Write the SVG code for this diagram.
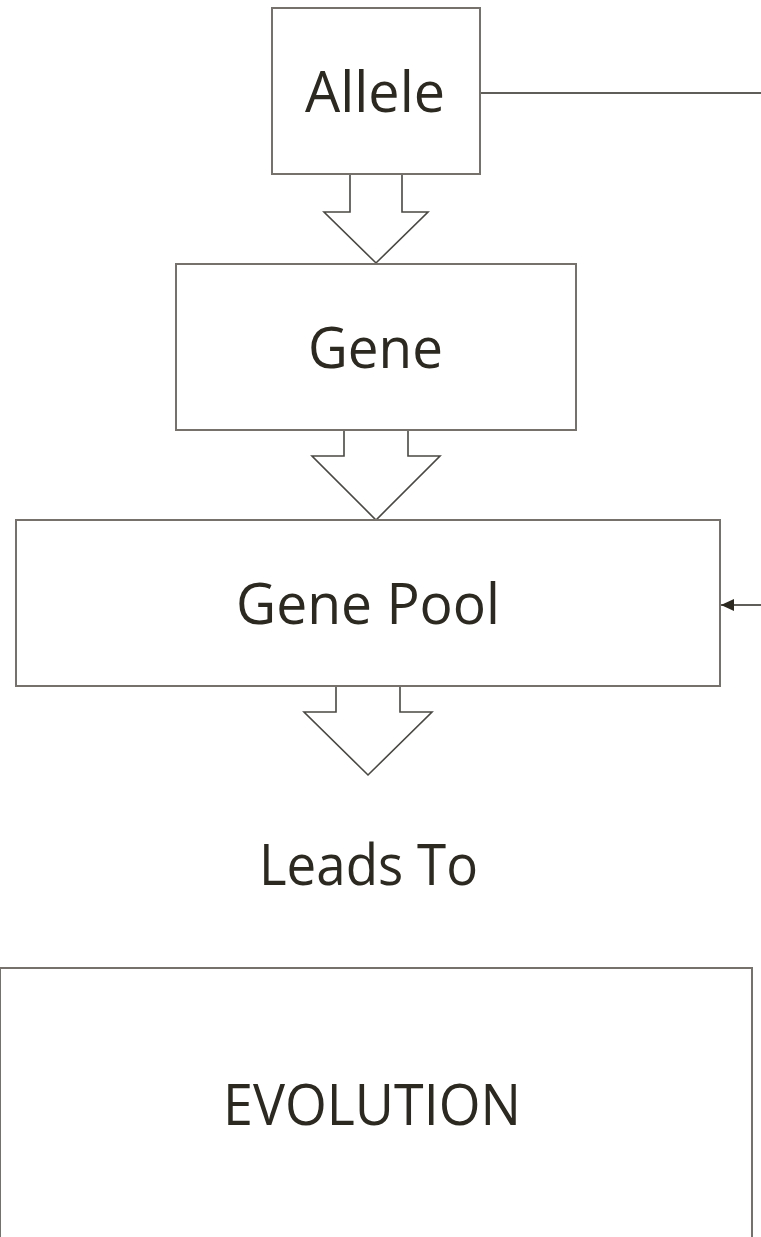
<svg xmlns="http://www.w3.org/2000/svg" width="761" height="1237" viewBox="0 0 761 1237">
<style>
.box{fill:#fff;stroke:#76726b;stroke-width:2}
.arr{fill:#fff;stroke:#4a4842;stroke-width:1.6;stroke-linejoin:miter}
.lbl{font-family:"Open Sans","Noto Sans",sans-serif;font-size:56px;fill:#2b2920;text-anchor:middle}
.con{stroke:#2b2920;stroke-width:1.5;fill:none}
</style>
<defs>
<marker id="ah" viewBox="0 0 13 12" refX="13" refY="6" markerWidth="13" markerHeight="12" markerUnits="userSpaceOnUse" orient="auto">
<path d="M0,0 L13,6 L0,12 z" fill="#2b2920"/>
</marker>
</defs>
<g id="connectors">
<line class="con" x1="481" y1="93" x2="761" y2="93"/>
<line class="con" x1="761" y1="605" x2="721" y2="605" marker-end="url(#ah)"/>
</g>
<g id="arrow1"><path class="arr" d="M350,174 V212 H324 L376,263 L428,212 H402 V174"/></g>
<g id="arrow2"><path class="arr" d="M344,430 V456 H312 L376,520 L440,456 H408 V430"/></g>
<g id="arrow3"><path class="arr" d="M336,686 V712 H304 L368,775 L432,712 H400 V686"/></g>
<g id="allele">
<rect class="box" x="272" y="8" width="208" height="166"/>
<text class="lbl" x="375" y="112" textLength="140" lengthAdjust="spacingAndGlyphs">Allele</text>
</g>
<g id="gene">
<rect class="box" x="176" y="264" width="400" height="166"/>
<text class="lbl" x="375.5" y="368" textLength="135" lengthAdjust="spacingAndGlyphs">Gene</text>
</g>
<g id="genepool">
<rect class="box" x="16" y="520" width="704" height="166"/>
<text class="lbl" x="368" y="624" textLength="264" lengthAdjust="spacingAndGlyphs">Gene Pool</text>
</g>
<g id="leadsto">
<text class="lbl" x="368.5" y="885" textLength="219" lengthAdjust="spacingAndGlyphs">Leads To</text>
</g>
<g id="evolution">
<rect class="box" x="0" y="968" width="752" height="290"/>
<text class="lbl" x="372" y="1125" textLength="298" lengthAdjust="spacingAndGlyphs">EVOLUTION</text>
</g>
</svg>
